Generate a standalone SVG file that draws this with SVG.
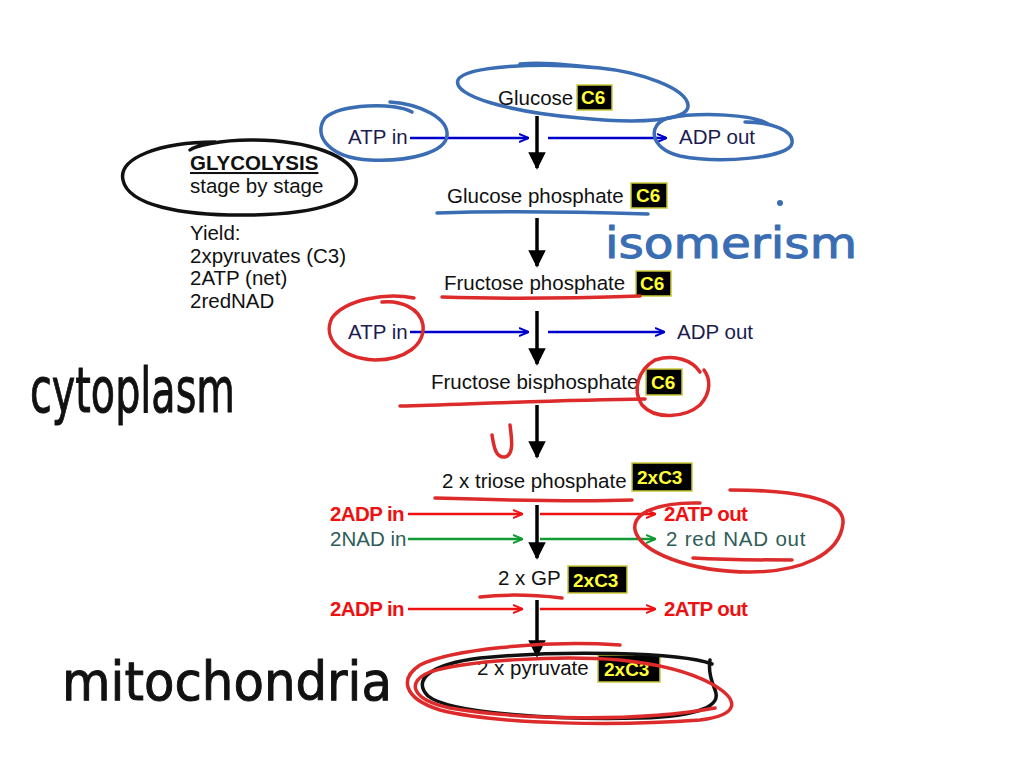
<svg xmlns="http://www.w3.org/2000/svg" width="1024" height="768" viewBox="0 0 1024 768">
<style>
.t{font-family:"Liberation Sans",Arial,sans-serif;font-size:20.5px;fill:#111}
.nv{fill:#1c1c50}
.rb{font-family:"Liberation Sans",Arial,sans-serif;font-size:20.5px;font-weight:bold;fill:#ee1111;letter-spacing:-0.6px}
.gn{fill:#2e5c58}
.box{fill:#000;stroke:#c8c838;stroke-width:1.5}
.bt{font-family:"Liberation Sans",Arial,sans-serif;font-size:19px;font-weight:bold;fill:#ffff33}
.v{stroke:#000;stroke-width:3.5;fill:none}
.b{stroke:#0000cc;stroke-width:2.5;fill:none}
.r{stroke:#ee1111;stroke-width:2.5;fill:none}
.g{stroke:#119933;stroke-width:2.5;fill:none}
.pb{stroke:#3a6db3;stroke-width:3.5;fill:none;stroke-linecap:round}
.pr{stroke:#dd2a2a;stroke-width:3.5;fill:none;stroke-linecap:round}
.pk{stroke:#111;stroke-width:3.5;fill:none;stroke-linecap:round}
.hw{font-family:"DejaVu Sans",sans-serif;stroke-width:1;stroke-linejoin:round}
</style>
<defs>
<marker id="ah" viewBox="0 0 10 10" refX="9" refY="5" markerWidth="5" markerHeight="5" orient="auto"><path d="M0,0L10,5L0,10z" fill="#000"/></marker>
<marker id="ab" viewBox="0 0 10 10" refX="9" refY="5" markerWidth="4" markerHeight="4" orient="auto"><path d="M0,1L10,5L0,9" fill="none" stroke="#0000cc" stroke-width="2"/></marker>
<marker id="ar" viewBox="0 0 10 10" refX="9" refY="5" markerWidth="4" markerHeight="4" orient="auto"><path d="M0,1L10,5L0,9" fill="none" stroke="#ee1111" stroke-width="2"/></marker>
<marker id="ag" viewBox="0 0 10 10" refX="9" refY="5" markerWidth="4" markerHeight="4" orient="auto"><path d="M0,1L10,5L0,9" fill="none" stroke="#119933" stroke-width="2"/></marker>
</defs>
<rect width="1024" height="768" fill="#fff"/>

<g id="title">
<text class="t" x="190" y="170" font-weight="bold" text-decoration="underline">GLYCOLYSIS</text>
<text class="t" x="190" y="193">stage by stage</text>
<text class="t" x="190" y="240">Yield:</text>
<text class="t" x="190" y="263">2xpyruvates (C3)</text>
<text class="t" x="190" y="285">2ATP (net)</text>
<text class="t" x="190" y="308">2redNAD</text>
</g>

<g id="glucose"><text class="t" x="498" y="105">Glucose</text><rect class="box" x="577" y="85" width="35" height="25"/><text class="bt" x="581" y="104">C6</text></g>
<g id="glucose-phosphate"><text class="t" x="447" y="203">Glucose phosphate</text><rect class="box" x="631" y="183" width="36" height="25"/><text class="bt" x="636" y="202">C6</text></g>
<g id="fructose-phosphate"><text class="t" x="444" y="290">Fructose phosphate</text><rect class="box" x="636" y="271" width="35" height="25"/><text class="bt" x="640" y="290">C6</text></g>
<g id="fructose-bisphosphate"><text class="t" x="431" y="389">Fructose bisphosphate</text><rect class="box" x="646" y="369" width="36" height="26"/><text class="bt" x="651" y="389">C6</text></g>
<g id="triose-phosphate"><text class="t" x="442" y="488">2 x triose phosphate</text><rect class="box" x="632" y="463" width="60" height="28"/><text class="bt" x="637" y="484">2xC3</text></g>
<g id="gp"><text class="t" x="498" y="585">2 x GP</text><rect class="box" x="568" y="566" width="59" height="27"/><text class="bt" x="573" y="587">2xC3</text></g>
<g id="pyruvate"><text class="t" x="477" y="675">2 x pyruvate</text><rect class="box" x="598" y="655" width="62" height="27"/><text class="bt" x="604" y="676">2xC3</text></g>

<g id="side-labels">
<text class="t nv" x="348" y="144">ATP in</text>
<text class="t nv" x="679" y="144">ADP out</text>
<text class="t nv" x="348" y="339">ATP in</text>
<text class="t nv" x="677" y="339">ADP out</text>
<text class="rb" x="330" y="521">2ADP in</text>
<text class="rb" x="664" y="521">2ATP out</text>
<text class="t gn" x="330" y="546" font-size="21">2NAD in</text>
<text class="t gn" x="666" y="546" font-size="21" letter-spacing="0.8">2 red NAD out</text>
<text class="rb" x="330" y="616">2ADP in</text>
<text class="rb" x="664" y="616">2ATP out</text>
</g>

<g id="connectors">
<path class="v" d="M537,116V168" marker-end="url(#ah)"/>
<path class="v" d="M537,218V266" marker-end="url(#ah)"/>
<path class="v" d="M537,311V364" marker-end="url(#ah)"/>
<path class="v" d="M537,405V457" marker-end="url(#ah)"/>
<path class="v" d="M537,505V558" marker-end="url(#ah)"/>
<path class="v" d="M537,600V656" marker-end="url(#ah)"/>
<path class="b" d="M410,138H528" marker-end="url(#ab)"/>
<path class="b" d="M548,138H666" marker-end="url(#ab)"/>
<path class="b" d="M410,332H528" marker-end="url(#ab)"/>
<path class="b" d="M548,332H664" marker-end="url(#ab)"/>
<path class="r" d="M408,514H522" marker-end="url(#ar)"/>
<path class="r" d="M540,514H655" marker-end="url(#ar)"/>
<path class="g" d="M408,539H522" marker-end="url(#ag)"/>
<path class="g" d="M540,539H655" marker-end="url(#ag)"/>
<path class="r" d="M408,609H522" marker-end="url(#ar)"/>
<path class="r" d="M540,609H655" marker-end="url(#ar)"/>
</g>

<g id="annotations">
<path class="pk" d="M215,142C160,142 118,158 123,180C128,205 180,216 250,215C320,214 360,200 356,178C352,156 310,140 250,140C220,140 195,146 190,150"/>
<path class="pb" d="M600,68C540,62 465,66 458,80C452,96 510,112 580,118C640,124 690,121 688,105C686,88 640,72 600,68C560,64 540,62 520,64"/>
<path class="pb" d="M412,112C395,102 340,104 325,118C312,136 330,158 370,160C410,162 445,152 447,136C449,118 420,104 390,102"/>
<path class="pb" d="M770,125C755,114 700,112 668,118C648,124 648,148 680,156C720,164 790,158 792,143C794,130 770,122 745,122"/>
<path class="pb" d="M437,213C500,211 580,212 648,214"/>
<circle cx="780" cy="203" r="3" fill="#3a6db3"/>
<text class="hw" x="605" y="258" font-size="42" fill="#3a6db3" stroke="#3a6db3" textLength="252" lengthAdjust="spacingAndGlyphs">isomerism</text>
<text class="hw" x="30" y="412" font-size="62" fill="#111" stroke="#111" textLength="205" lengthAdjust="spacingAndGlyphs">cytoplasm</text>
<text class="hw" x="62" y="700" font-size="54" fill="#111" stroke="#111" textLength="330" lengthAdjust="spacingAndGlyphs">mitochondria</text>
<path class="pr" d="M442,297C500,299 580,298 640,296"/>
<path class="pr" d="M414,298C385,292 345,300 332,318C322,338 340,358 375,360C405,360 425,345 423,325C420,308 400,300 382,302"/>
<path class="pr" d="M700,372C692,360 675,354 655,360C638,370 632,390 642,405C655,420 685,418 700,405C712,392 710,378 704,370"/>
<path class="pr" d="M400,406C470,404 560,400 645,399"/>
<path class="pr" d="M510,425C512,440 514,455 505,457C496,458 494,448 492,435"/>
<path class="pr" d="M435,498C500,500 570,502 632,500"/>
<path class="pr" d="M730,490C790,490 845,497 843,523C840,555 800,572 750,572C690,572 640,552 635,530C632,512 660,502 700,503"/>
<path class="pr" d="M693,558C730,560 765,560 792,560"/>
<path class="pr" d="M480,597C505,594 535,595 562,598"/>
<path class="pk" d="M712,664C680,652 560,650 480,658C430,664 412,680 428,696C450,714 560,720 640,718C700,716 722,706 715,690C712,682 708,672 710,660"/>
<path class="pr" d="M620,645C540,640 450,650 420,665C400,678 402,698 440,710C500,725 620,726 700,720C740,715 740,700 712,684C690,672 660,664 620,660C560,655 470,660 430,672C405,682 412,700 450,708C520,720 640,722 715,708"/>
</g>
</svg>
